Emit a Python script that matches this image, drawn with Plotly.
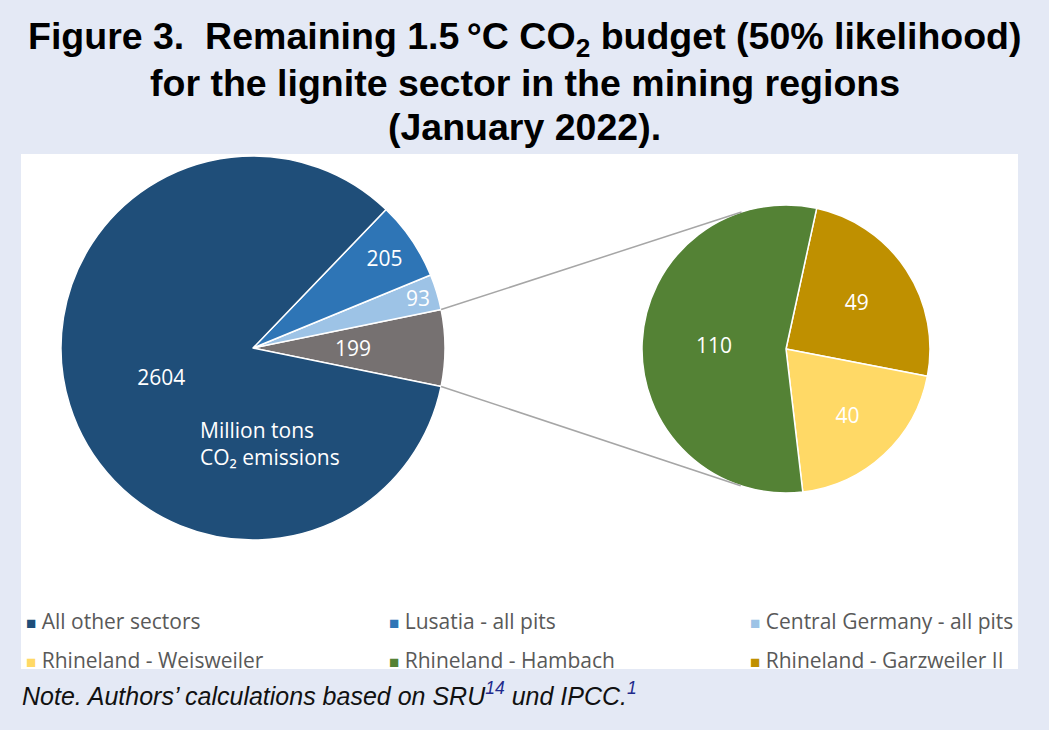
import math
import plotly.graph_objects as go

# page size the chart is drawn for
W, H = 1049, 730

title_lines = [
    "Figure 3.  Remaining 1.5\u2009°C CO<sub>2</sub> budget (50% likelihood)",
    "for the lignite sector in the mining regions",
    "(January 2022).",
]

# main pie (million tons CO2)
main_labels = ["Rhineland - all pits", "Central Germany - all pits", "Lusatia - all pits", "All other sectors"]
main_values = [199, 93, 205, 2604]
main_colors = ["#767171", "#9dc3e6", "#2e75b6", "#1f4e79"]

# breakdown of the Rhineland slice
rhine_labels = ["Rhineland - Garzweiler II", "Rhineland - Weisweiler", "Rhineland - Hambach"]
rhine_values = [49, 40, 110]
rhine_colors = ["#bf9000", "#ffd966", "#548235"]

legend_labels = ["All other sectors", "Lusatia - all pits", "Central Germany - all pits",
                 "Rhineland - Weisweiler", "Rhineland - Hambach", "Rhineland - Garzweiler II"]
legend_colors = ["#1f4e79", "#2e75b6", "#9dc3e6", "#ffd966", "#548235", "#bf9000"]

note = ("<i>Note. Authors’ calculations based on SRU<span style='color:#1f2a8c'><sup>14</sup></span>"
        " und IPCC.<span style='color:#1f2a8c'><sup>1</sup></span></i>")


def px_x(v):
    return v / W


def px_y(v):
    return 1 - v / H


# pie geometry in pixels
c1x, c1y, r1 = 253, 348, 192
c2x, c2y, r2 = 786, 349, 144

total = sum(main_values)
half = main_values[0] / total * 180
rot1 = 90 - half   # grey slice centred on 3 o'clock
rot2 = 12.3

label_font = dict(family="Open Sans", size=21, color="white")

fig = go.Figure()

fig.add_trace(go.Pie(
    labels=main_labels, values=main_values, sort=False,
    direction="counterclockwise", rotation=rot1,
    marker=dict(colors=main_colors, line=dict(color="white", width=1.5)),
    # the two thin slices get their labels as annotations below
    texttemplate=["", "", "%{value}", "%{value}"],
    textposition="inside", insidetextorientation="horizontal",
    textfont=label_font,
    domain=dict(x=[px_x(c1x - r1), px_x(c1x + r1)], y=[px_y(c1y + r1), px_y(c1y - r1)]),
    showlegend=False, hoverinfo="label+value",
))

fig.add_trace(go.Pie(
    labels=rhine_labels, values=rhine_values, sort=False,
    direction="clockwise", rotation=rot2,
    marker=dict(colors=rhine_colors, line=dict(color="white", width=1.5)),
    texttemplate="%{value}", textposition="inside", insidetextorientation="horizontal",
    textfont=label_font,
    domain=dict(x=[px_x(c2x - r2), px_x(c2x + r2)], y=[px_y(c2y + r2), px_y(c2y - r2)]),
    showlegend=False, hoverinfo="label+value",
))

# connector lines: from the edges of the grey slice, tangent to the second pie
shapes = [dict(type="rect", xref="paper", yref="paper", layer="below",
               x0=px_x(21), x1=px_x(1018), y0=px_y(669), y1=px_y(154),
               fillcolor="white", line=dict(width=0))]
for sgn in (-1, 1):
    a = math.radians(half)
    sx = c1x + r1 * math.cos(a)
    sy = c1y + sgn * r1 * math.sin(a)
    dx, dy = c2x - sx, c2y - sy
    d = math.hypot(dx, dy)
    base = math.atan2(dy, dx)
    off = math.asin(r2 / d)
    ang = base + sgn * off
    L = math.sqrt(d * d - r2 * r2)
    ex, ey = sx + L * math.cos(ang), sy + L * math.sin(ang)
    shapes.append(dict(type="line", xref="paper", yref="paper",
                       x0=px_x(sx), y0=px_y(sy), x1=px_x(ex), y1=px_y(ey),
                       line=dict(color="#a6a6a6", width=1.5)))

annotations = []
for i, line in enumerate(title_lines):
    annotations.append(dict(text=f"<b>{line}</b>", x=0.5, y=px_y(39 + 44 * i),
                            xref="paper", yref="paper", xanchor="center", yanchor="middle",
                            showarrow=False,
                            font=dict(family="Liberation Sans, Arial", size=37.5, color="black")))

# labels of the grey and light blue slices, on each slice's middle direction
mid_grey = 0.0
mid_cg = half + main_values[1] / total * 180
for val, ang, frac in [(main_values[0], mid_grey, 0.52), (main_values[1], mid_cg, 0.9)]:
    a = math.radians(ang)
    annotations.append(dict(text=str(val),
                            x=px_x(c1x + frac * r1 * math.cos(a)),
                            y=px_y(c1y - frac * r1 * math.sin(a)),
                            xref="paper", yref="paper", xanchor="center", yanchor="middle",
                            showarrow=False, font=label_font))

annotations.append(dict(text="Million tons<br>CO₂ emissions", x=px_x(198), y=px_y(443),
                        xref="paper", yref="paper", xanchor="left", yanchor="middle",
                        align="left", showarrow=False,
                        font=dict(family="Open Sans", size=21, color="white")))

col_x = [24, 387, 748]
row_y = [621, 660]
for i, (lab, col) in enumerate(zip(legend_labels, legend_colors)):
    annotations.append(dict(
        text=f"<span style='color:{col};font-size:17px'>■</span> {lab}",
        x=px_x(col_x[i % 3]), y=px_y(row_y[i // 3]),
        xref="paper", yref="paper", xanchor="left", yanchor="middle",
        showarrow=False, font=dict(family="Open Sans", size=21, color="#595959")))

annotations.append(dict(text=note, x=px_x(20), y=px_y(694), xref="paper", yref="paper",
                        xanchor="left", yanchor="middle", showarrow=False,
                        font=dict(family="Liberation Sans, Arial", size=25, color="#111111")))

fig.update_layout(
    width=W, height=H,
    margin=dict(l=0, r=0, t=0, b=0),
    paper_bgcolor="#e4e9f5",
    shapes=shapes,
    annotations=annotations,
)

# drop the browser's default body margin so the figure fills the window
fig.write_html("out.html", config={"displayModeBar": False},
               post_script="document.body.style.margin = '0';")
